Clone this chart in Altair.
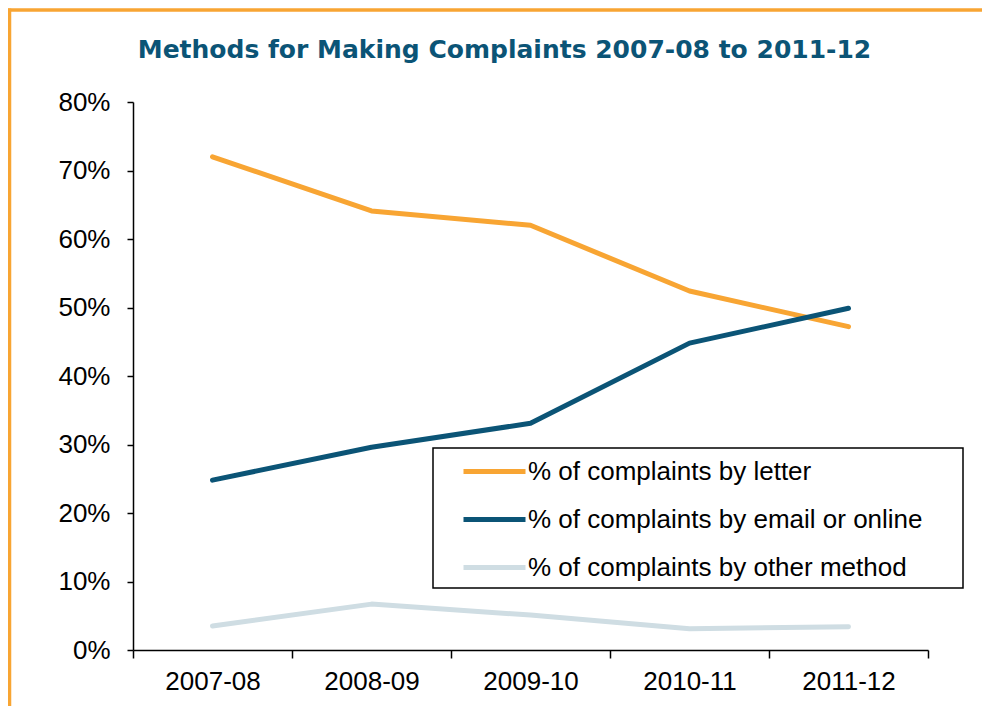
import altair as alt
import pandas as pd

years = ["2007-08", "2008-09", "2009-10", "2010-11", "2011-12"]
methods = [
    "% of complaints by letter",
    "% of complaints by email or online",
    "% of complaints by other method",
]
letter = [72.0, 64.1, 62.0, 52.4, 47.2]
email = [24.8, 29.6, 33.1, 44.8, 49.9]
other = [3.5, 6.7, 5.1, 3.1, 3.4]
colors = ["#F8A533", "#0B5476", "#CFDDE3"]
y_ticks = [0, 10, 20, 30, 40, 50, 60, 70, 80]
title_text = "Methods for Making Complaints 2007-08 to 2011-12"

rows = []
for m, vals in zip(methods, [letter, email, other]):
    for yv, v in zip(years, vals):
        rows.append({"year": yv, "method": m, "value": v})
df = pd.DataFrame(rows)

W, H = 795, 548
FS = 26

lines = alt.Chart(df).mark_line(strokeWidth=5, strokeCap="round", strokeJoin="round").encode(
    x=alt.X("year:N", sort=years, bandPosition=0.5,
            scale=alt.Scale(type="band", paddingInner=0, paddingOuter=0),
            axis=alt.Axis(title=None, labelAngle=0, tickBand="extent", grid=False,
                          domainColor="black", domainWidth=1.5, tickColor="black",
                          tickWidth=1.5, tickSize=8, labelPadding=10,
                          labelFont="Liberation Sans", labelFontSize=FS, labelColor="black")),
    y=alt.Y("value:Q", scale=alt.Scale(domain=[0, 80], nice=False),
            axis=alt.Axis(title=None, values=y_ticks, labelExpr="datum.value + '%'", grid=False,
                          domainColor="black", domainWidth=1.5, tickColor="black",
                          tickWidth=1.5, tickSize=6, labelPadding=17,
                          labelFont="Liberation Sans", labelFontSize=FS, labelColor="black")),
    color=alt.Color("method:N", scale=alt.Scale(domain=methods, range=colors),
                    legend=alt.Legend(title=None, orient="none", legendX=328, legendY=336,
                                      symbolType="stroke", symbolSize=3844, symbolStrokeWidth=5,
                                      labelFont="Liberation Sans", labelFontSize=FS,
                                      labelColor="black", labelOffset=0, rowPadding=1,
                                      padding=0, labelLimit=600)),
)

one = alt.Data(values=[{}])

legend_box = alt.Chart(one).mark_rect(fill="white", stroke="black", strokeWidth=1.5).encode(
    x=alt.value(300), x2=alt.value(830), y=alt.value(346), y2=alt.value(486)
)

frame_top = alt.Chart(one).mark_rule(color="#F8A533", strokeWidth=3.5).encode(
    x=alt.value(-125), x2=alt.value(860), y=alt.value(-92)
)
frame_left = alt.Chart(one).mark_rule(color="#F8A533", strokeWidth=3.5).encode(
    x=alt.value(-123.5), y=alt.value(-93.5), y2=alt.value(620)
)

chart = alt.layer(frame_top, frame_left, legend_box, lines).properties(
    width=W, height=H,
    autosize=alt.AutoSizeParams(type="none"),
    padding={"left": 125, "top": 94, "right": 54, "bottom": 56},
    title=alt.TitleParams(title_text, font="DejaVu Sans", fontSize=25, fontWeight="bold",
                          color="#0B5476", anchor="middle", frame="group", dx=-26,
                          offset=40, dy=96),
).configure_view(stroke=None)

chart.save("out.html", embed_options={"renderer": "svg", "actions": False})
